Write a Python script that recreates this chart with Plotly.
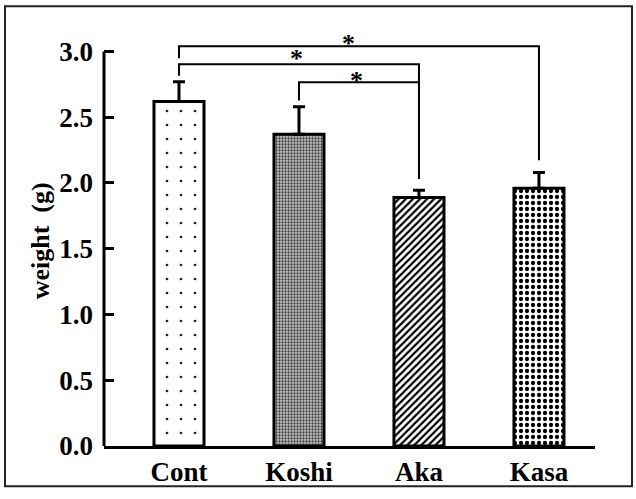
import plotly.graph_objects as go

# Group means and standard errors
groups = ["Cont", "Koshi", "Aka", "Kasa"]
weights = [2.62, 2.37, 1.89, 1.96]
errors = [0.15, 0.21, 0.055, 0.12]

# Fill pattern for each bar
pattern_shapes = [".", ".", "/", "."]
pattern_fg = ["#222222", "#404040", "#000000", "#000000"]
pattern_bg = ["#ffffff", "#c4c4c4", "#ffffff", "#ffffff"]
pattern_size = [14, 3, 5, 6]
pattern_solid = [0.03, 0.45, 0.45, 0.4]

# Significance brackets: (left group, right group, bracket height, left drop, right drop, star x, star y)
brackets = [
    (0, 3, 3.040, 2.948, 2.172, 1.41, 3.105),
    (0, 2, 2.903, 2.815, 2.030, 0.98, 2.990),
    (1, 2, 2.766, 2.628, 2.030, 1.48, 2.828),
]

W, H = 636, 499
ML, MR, MT, MB = 104, 41, 20, 46
PW, PH = W - ML - MR, H - MT - MB
PX_PER_UNIT = 133.67
Y_TOP = PH / PX_PER_UNIT
X_LEFT, X_RIGHT = -0.625, 3.467

FONT = "Liberation Serif"

fig = go.Figure()
fig.add_trace(go.Bar(
    x=list(range(len(groups))),
    y=weights,
    width=0.417,
    marker=dict(
        color="white",
        line=dict(color="black", width=3),
        pattern=dict(shape=pattern_shapes, fgcolor=pattern_fg, bgcolor=pattern_bg,
                     size=pattern_size, solidity=pattern_solid, fillmode="replace"),
    ),
    error_y=dict(type="data", array=errors, arrayminus=[0] * len(errors),
                 symmetric=False, color="black", thickness=3, width=6),
    showlegend=False,
))

shapes = []
annotations = []
for a, b, top, ya, yb, sx, sy in brackets:
    shapes.append(dict(type="path", xref="x", yref="y",
                       path=f"M {a},{ya} L {a},{top} L {b},{top} L {b},{yb}",
                       line=dict(color="black", width=2)))
    annotations.append(dict(x=sx, y=sy, xref="x", yref="y", text="*", showarrow=False,
                            font=dict(family=FONT, size=26, color="black", weight="bold"),
                            yshift=-6))

# y axis line drawn only between 0 and 3.0
shapes.append(dict(type="line", xref="paper", yref="y", x0=0, x1=0, y0=0, y1=3.0,
                   line=dict(color="black", width=3)))


def px_x(p):
    return (p - ML) / PW


def px_y(p):
    return 1 - (p - MT) / PH


# outer frame around the figure
shapes.append(dict(type="rect", xref="paper", yref="paper",
                   x0=px_x(5), x1=px_x(632), y0=px_y(494), y1=px_y(6),
                   line=dict(color="#222222", width=2), layer="above"))

annotations.append(dict(x=px_x(40), y=px_y(245), xref="paper", yref="paper",
                        xanchor="center", yanchor="middle",
                        text="weight  (g)", textangle=-90, showarrow=False,
                        font=dict(family=FONT, size=26, color="black", weight="bold")))

fig.update_layout(
    width=W, height=H,
    margin=dict(l=ML, r=MR, t=MT, b=MB, pad=0),
    paper_bgcolor="white", plot_bgcolor="white",
    shapes=shapes, annotations=annotations,
    xaxis=dict(range=[X_LEFT, X_RIGHT], tickvals=list(range(len(groups))), ticktext=groups,
               showline=True, linecolor="black", linewidth=3, ticks="", showgrid=False,
               zeroline=False, tickfont=dict(family=FONT, size=27, color="black", weight="bold")),
    yaxis=dict(range=[0, Y_TOP], tickvals=[0, 0.5, 1.0, 1.5, 2.0, 2.5, 3.0],
               ticktext=["0.0", "0.5", "1.0", "1.5", "2.0", "2.5", "3.0"],
               showline=False, ticks="inside", ticklen=10, tickwidth=2.5, tickcolor="black",
               showgrid=False, zeroline=False, ticklabelstandoff=10,
               tickfont=dict(family=FONT, size=27, color="black", weight="bold")),
    bargap=0.5,
)

fig.write_html("out.html")
